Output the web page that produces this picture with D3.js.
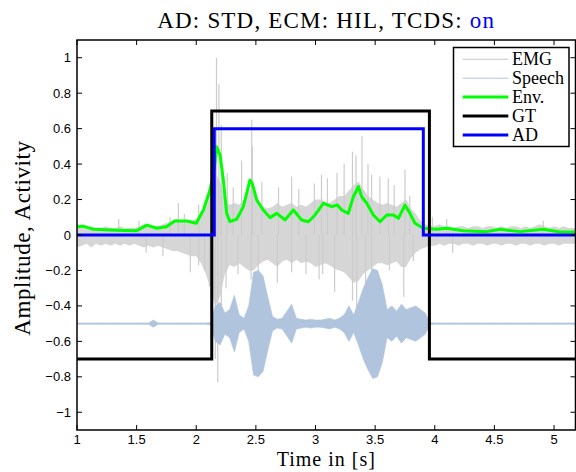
<!DOCTYPE html>
<html>
<head>
<meta charset="utf-8">
<script src="https://cdn.jsdelivr.net/npm/d3@7/dist/d3.min.js"></script>
<style>
	body { margin: 0; background: #fff; }
	svg { display: block; }
	.tick-label { font-family: 'Liberation Sans', Arial, sans-serif; font-size: 13px; fill: #000; }
	.serif { font-family: 'Liberation Serif', 'Times New Roman', serif; fill: #000; }
</style>
</head>
<body>
<div id="chart"></div>
<script>
// time grid of the binned signals (s), one bin every 0.04 s
var binT = d3.range(106).map(function (i) { return +(1 + i * 0.04).toFixed(2); });

// EMG: dense core band, upper and lower edge per bin
var emgHi = [
	.06, .05, .04, .05, .04, .04, .05, .04, .04, .05, .04, .04, .04, .05, .06, .06, .05, .05, .06, .07,
	.08, .09, .08, .08, .08, .09, .12, .16, .25, .35, .30, .20, .17, .18, .17, .20, .25, .28, .20, .16,
	.15, .16, .18, .16, .17, .18, .16, .17, .16, .18, .20, .20, .19, .18, .20, .22, .22, .25, .28, .30,
	.26, .22, .20, .18, .17, .18, .17, .16, .18, .20, .15, .12, .08, .06, .05, .05, .06, .05, .05, .04,
	.05, .05, .04, .05, .05, .04, .05, .05, .04, .05, .04, .05, .05, .04, .05, .04, .05, .06, .05, .04,
	.05, .04, .05, .04, .04, .04
];
var emgLo = [
	-.07, -.06, -.05, -.07, -.05, -.06, -.05, -.06, -.05, -.06, -.05, -.06, -.05, -.06, -.07, -.06, -.07, -.06, -.07, -.08,
	-.09, -.09, -.10, -.11, -.12, -.12, -.16, -.22, -.30, -.40, -.35, -.22, -.17, -.18, -.16, -.18, -.20, -.20, -.17, -.15,
	-.14, -.16, -.18, -.15, -.14, -.16, -.14, -.16, -.15, -.16, -.18, -.17, -.16, -.17, -.19, -.20, -.21, -.24, -.27, -.26,
	-.22, -.20, -.18, -.16, -.16, -.17, -.16, -.15, -.18, -.18, -.13, -.10, -.08, -.07, -.06, -.06, -.05, -.06, -.05, -.05,
	-.06, -.05, -.05, -.06, -.05, -.05, -.06, -.05, -.05, -.06, -.05, -.05, -.06, -.05, -.05, -.06, -.05, -.05, -.06, -.05,
	-.05, -.06, -.05, -.05, -.05, -.05
];

// EMG: single tall spikes
var spikeT = [
	1.35, 1.52, 1.78, 1.85, 1.90, 2.02, 2.14, 2.17, 2.19, 2.21, 2.26, 2.31, 2.38, 2.465, 2.47, 2.55, 2.69, 2.80, 2.86, 2.99,
	3.05, 3.10, 3.18, 3.24, 3.31, 3.34, 3.39, 3.44, 3.47, 3.54, 3.61, 3.66, 3.75, 3.79, 3.98, 4.10, 4.91,
	1.58, 1.72, 1.95, 2.02, 2.07, 2.11, 2.13, 2.16, 2.18, 2.21, 2.25, 2.35, 2.46, 2.52, 2.68, 2.80, 2.92, 3.03, 3.06, 3.16,
	3.31, 3.345, 3.42, 3.47, 3.62, 3.74, 3.82, 4.15
];
var spikeV = [
	.09, .08, .10, .18, .12, .17, .57, 1.0, .85, .62, .35, .27, .42, .65, .50, .30, .27, .33, .26, .29,
	.34, .32, .35, .40, .47, .45, .56, .40, .34, .33, .32, .28, .37, .22, .10, .09, .08,
	-.10, -.12, -.21, -.17, -.20, -.29, -.50, -.70, -.83, -.45, -.30, -.22, -.25, -.22, -.27, -.21, -.22, -.25, -.22, -.32,
	-.37, -.42, -.30, -.30, -.20, -.35, -.15, -.10
];

// Speech: offset and half amplitude per bin
var speechOffset = -0.5;
var speechAmp = [
	.004, .004, .004, .004, .004, .004, .004, .004, .004, .004, .004, .004, .004, .004, .004, .004, .02, .004, .004, .004,
	.004, .004, .004, .004, .004, .004, .004, .004, .006, .10, .12, .06, .08, .16, .05, .03, .10, .29, .30, .27,
	.15, .04, .025, .03, .07, .11, .03, .025, .02, .025, .02, .02, .025, .03, .02, .03, .05, .10, .05, .12,
	.20, .26, .31, .30, .22, .08, .10, .07, .11, .08, .09, .10, .08, .06, .005, .004, .004, .004, .004, .004,
	.004, .004, .004, .004, .004, .004, .004, .004, .004, .004, .004, .004, .004, .004, .004, .004, .004, .004, .004, .004,
	.004, .004, .004, .004, .004, .004
];

// envelope
var envT = [
	1.00, 1.05, 1.14, 1.28, 1.40, 1.50, 1.585, 1.67, 1.75, 1.82, 1.92, 2.00, 2.06, 2.115, 2.15, 2.171, 2.20, 2.227, 2.255, 2.283,
	2.34, 2.395, 2.45, 2.47, 2.507, 2.562, 2.618, 2.675, 2.744, 2.814, 2.884, 2.94, 2.996, 3.066, 3.136, 3.183, 3.22, 3.275, 3.317, 3.36,
	3.387, 3.43, 3.485, 3.541, 3.597, 3.653, 3.695, 3.75, 3.792, 3.834, 3.904, 4.016, 4.10, 4.24, 4.436, 4.547, 4.715, 4.91, 5.05, 5.20
];
var envV = [
	.047, .050, .032, .028, .026, .024, .056, .038, .047, .079, .079, .066, .141, .254, .367, .498, .451, .310, .122, .075,
	.090, .160, .310, .29, .197, .141, .098, .122, .085, .141, .085, .075, .113, .179, .160, .169, .141, .122, .216, .273,
	.216, .179, .113, .075, .113, .113, .094, .169, .122, .066, .038, .032, .038, .024, .019, .032, .019, .032, .017, .017
];

// ground truth and activity detection (step edges)
var gtT = [1.00, 2.13, 2.13, 3.955, 3.955, 5.20];
var gtV = [-0.7, -0.7, 0.7, 0.7, -0.7, -0.7];
var adT = [1.00, 2.151, 2.151, 3.904, 3.904, 5.20];
var adV = [0, 0, 0.6, 0.6, 0, 0];

var xTicks = [1, 1.5, 2, 2.5, 3, 3.5, 4, 4.5, 5];
var yTicks = [-1, -0.8, -0.6, -0.4, -0.2, 0, 0.2, 0.4, 0.6, 0.8, 1];

var legendNames = ['EMG', 'Speech', 'Env.', 'GT', 'AD'];
var legendColors = ['#c8c8c8', '#b0c4de', '#00ff00', '#000000', '#0000ff'];
var legendWidths = [1, 1, 3, 3, 3];

(function () {
	'use strict';

	var W = 576, H = 472;
	var M = { left: 77, right: 575.5, top: 40, bottom: 430 };

	var svg = d3.select('#chart').append('svg')
		.attr('width', W)
		.attr('height', H);

	var x = d3.scaleLinear().domain([1, 5.18]).range([M.left, M.right]);
	var y = d3.scaleLinear().domain([-1.1, 1.1]).range([M.bottom, M.top]);

	svg.append('clipPath').attr('id', 'plotclip')
		.append('rect')
		.attr('x', M.left).attr('y', M.top)
		.attr('width', M.right - M.left).attr('height', M.bottom - M.top);

	var plot = svg.append('g').attr('clip-path', 'url(#plotclip)');

	// EMG core band
	var emgArea = d3.area()
		.x(function (d, i) { return x(binT[i]); })
		.y0(function (d, i) { return y(emgLo[i]); })
		.y1(function (d, i) { return y(emgHi[i]); });
	plot.append('path')
		.datum(binT)
		.attr('d', emgArea)
		.attr('fill', '#d6d6d6');

	plot.selectAll('line.spike')
		.data(spikeT)
		.enter().append('line')
		.attr('class', 'spike')
		.attr('x1', function (d) { return x(d); })
		.attr('x2', function (d) { return x(d); })
		.attr('y1', y(0))
		.attr('y2', function (d, i) { return y(spikeV[i]); })
		.attr('stroke', '#cccccc')
		.attr('stroke-width', 1.2);

	// speech
	var speechArea = d3.area()
		.x(function (d, i) { return x(binT[i]); })
		.y0(function (d, i) { return y(speechOffset - speechAmp[i]); })
		.y1(function (d, i) { return y(speechOffset + speechAmp[i]); });
	plot.append('path')
		.datum(binT)
		.attr('d', speechArea)
		.attr('fill', '#b0c4de')
		.attr('stroke', '#b0c4de')
		.attr('stroke-width', 0.6);

	var line = function (ts, vs) {
		return d3.line()
			.x(function (d, i) { return x(ts[i]); })
			.y(function (d, i) { return y(vs[i]); })(ts);
	};

	plot.append('path')
		.attr('d', line(envT, envV))
		.attr('fill', 'none')
		.attr('stroke', '#00ff00')
		.attr('stroke-width', 3)
		.attr('stroke-linejoin', 'round');

	plot.append('path')
		.attr('d', line(gtT, gtV))
		.attr('fill', 'none')
		.attr('stroke', '#000')
		.attr('stroke-width', 3);

	plot.append('path')
		.attr('d', line(adT, adV))
		.attr('fill', 'none')
		.attr('stroke', '#0000ff')
		.attr('stroke-width', 3);

	// axes, matlab style: box with inner ticks on all sides
	var axes = svg.append('g');
	var TICK = 5;

	axes.append('rect')
		.attr('x', M.left).attr('y', M.top)
		.attr('width', M.right - M.left).attr('height', M.bottom - M.top)
		.attr('fill', 'none')
		.attr('stroke', '#000')
		.attr('stroke-width', 1.5);

	xTicks.forEach(function (t) {
		axes.append('line')
			.attr('x1', x(t)).attr('x2', x(t))
			.attr('y1', M.bottom).attr('y2', M.bottom - TICK)
			.attr('stroke', '#000');
		axes.append('line')
			.attr('x1', x(t)).attr('x2', x(t))
			.attr('y1', M.top).attr('y2', M.top + TICK)
			.attr('stroke', '#000');
		axes.append('text')
			.attr('class', 'tick-label')
			.attr('x', x(t))
			.attr('y', M.bottom + 14)
			.attr('text-anchor', 'middle')
			.text(d3.format('~g')(t));
	});

	yTicks.forEach(function (v) {
		axes.append('line')
			.attr('x1', M.left).attr('x2', M.left + TICK)
			.attr('y1', y(v)).attr('y2', y(v))
			.attr('stroke', '#000');
		axes.append('line')
			.attr('x1', M.right).attr('x2', M.right - TICK)
			.attr('y1', y(v)).attr('y2', y(v))
			.attr('stroke', '#000');
		axes.append('text')
			.attr('class', 'tick-label')
			.attr('x', M.left - 6)
			.attr('y', y(v))
			.attr('dy', '0.35em')
			.attr('text-anchor', 'end')
			.text(d3.format('~g')(v).replace('-', '\u2212'));
	});

	// title
	var title = svg.append('text')
		.attr('class', 'serif')
		.attr('x', (M.left + M.right) / 2)
		.attr('y', 28)
		.attr('text-anchor', 'middle')
		.style('font-size', '23px')
		.style('letter-spacing', '1.2px');
	title.append('tspan').text('AD: STD, ECM: HIL, TCDS: ');
	title.append('tspan').attr('fill', '#0000ff').text('on');

	svg.append('text')
		.attr('class', 'serif')
		.attr('x', (M.left + M.right) / 2)
		.attr('y', 466)
		.attr('text-anchor', 'middle')
		.style('font-size', '20px')
		.style('letter-spacing', '1px')
		.text('Time in [s]');

	svg.append('text')
		.attr('class', 'serif')
		.attr('transform', 'translate(30,' + (y(0) + 3) + ') rotate(-90)')
		.attr('text-anchor', 'middle')
		.style('font-size', '23px')
		.style('letter-spacing', '0.6px')
		.text('Amplitude, Activity');

	// legend
	var lg = svg.append('g');
	lg.append('rect')
		.attr('x', 453.5).attr('y', 47.5)
		.attr('width', 115.5).attr('height', 99)
		.attr('fill', '#fff')
		.attr('stroke', '#000')
		.attr('stroke-width', 1.5);

	legendNames.forEach(function (name, i) {
		var ly = 59.3 + i * 18.9;
		lg.append('line')
			.attr('x1', 462.7).attr('x2', 508.3)
			.attr('y1', ly).attr('y2', ly)
			.attr('stroke', legendColors[i])
			.attr('stroke-width', legendWidths[i]);
		lg.append('text')
			.attr('class', 'serif')
			.attr('x', 512)
			.attr('y', ly)
			.attr('dy', '0.33em')
			.style('font-size', '18px')
			.text(name);
	});
}());
</script>
</body>
</html>
